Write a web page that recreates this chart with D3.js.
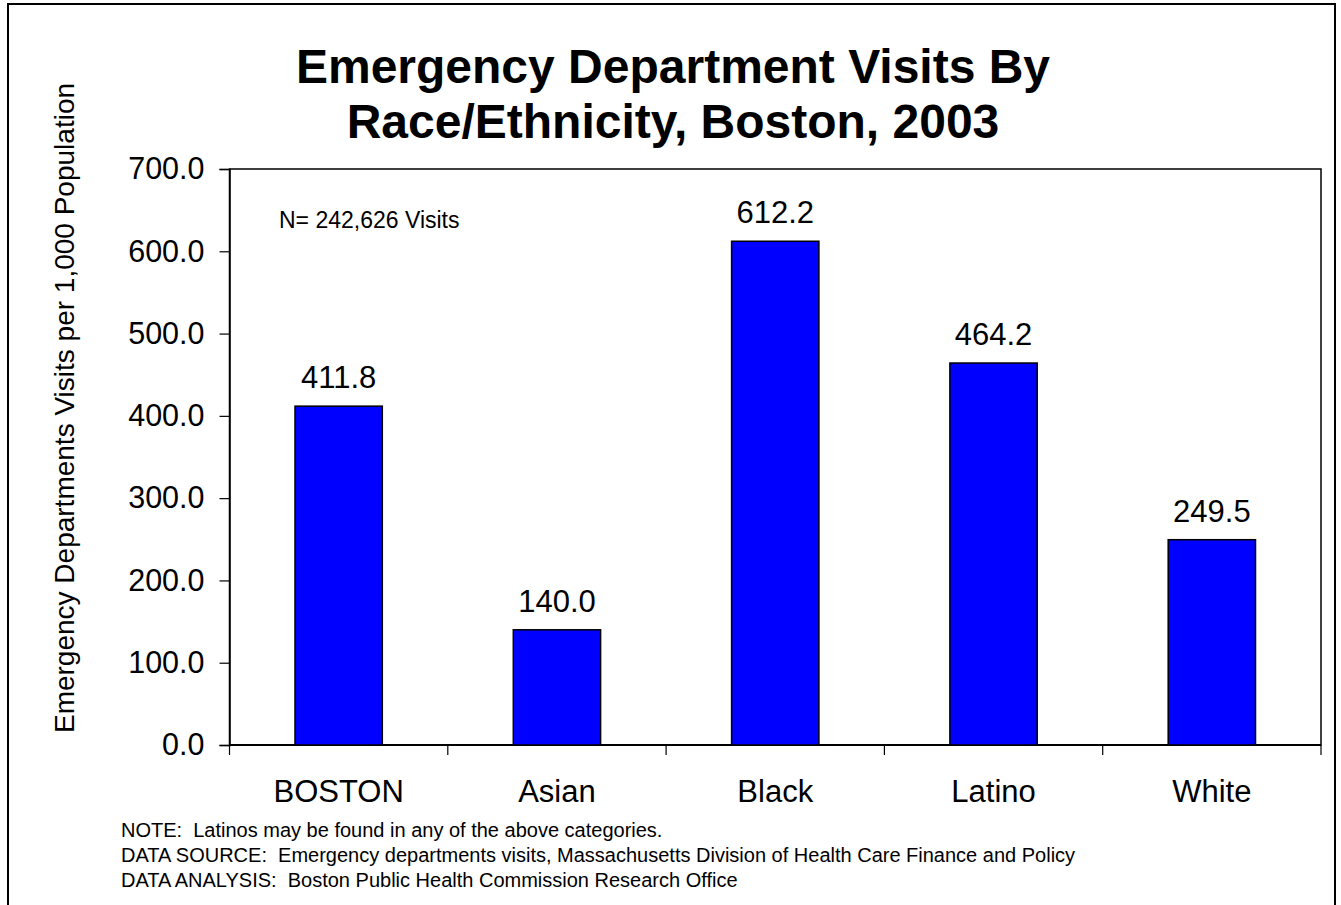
<!DOCTYPE html>
<html>
<head>
<meta charset="utf-8">
<script src="https://cdn.jsdelivr.net/npm/d3@7"></script>
<style>
  html, body { margin: 0; padding: 0; background: #fff; }
  svg { display: block; font-family: "Liberation Sans", Arial, Helvetica, sans-serif; }
  text { white-space: pre; }
</style>
</head>
<body>
<svg id="chart" width="1341" height="905"></svg>
<script>
// Emergency department visit rates per 1,000 population, Boston 2003
const categories = ["BOSTON", "Asian", "Black", "Latino", "White"];
const rates = [411.8, 140.0, 612.2, 464.2, 249.5];
const yTicks = [0, 100, 200, 300, 400, 500, 600, 700];
const titleLines = ["Emergency Department Visits By", "Race/Ethnicity, Boston, 2003"];
const yAxisTitle = "Emergency Departments Visits per 1,000 Population";
const countNote = "N= 242,626 Visits";
const footNotes = [
  "NOTE:  Latinos may be found in any of the above categories.",
  "DATA SOURCE:  Emergency departments visits, Massachusetts Division of Health Care Finance and Policy",
  "DATA ANALYSIS:  Boston Public Health Commission Research Office"
];

const svg = d3.select("#chart");

// outer frame
svg.append("rect")
  .attr("x", 8).attr("y", 4)
  .attr("width", 1327).attr("height", 920)
  .attr("fill", "#fff").attr("stroke", "#000").attr("stroke-width", 2);

const plot = { left: 229.5, top: 169, right: 1321, bottom: 745 };

const x = d3.scaleBand()
  .domain(categories)
  .range([plot.left, plot.right])
  .paddingInner(0.6).paddingOuter(0.3);

const xOuter = d3.scaleBand()
  .domain(categories)
  .range([plot.left, plot.right]);

const y = d3.scaleLinear()
  .domain([0, 700])
  .range([plot.bottom, plot.top]);

// plot area frame
svg.append("rect")
  .attr("x", plot.left).attr("y", plot.top)
  .attr("width", plot.right - plot.left).attr("height", plot.bottom - plot.top)
  .attr("fill", "none").attr("stroke", "#000").attr("stroke-width", 1.5);

// title
svg.append("text")
  .attr("x", 673).attr("y", 83)
  .attr("text-anchor", "middle")
  .attr("font-size", 48).attr("font-weight", "bold")
  .selectAll("tspan").data(titleLines).join("tspan")
  .attr("x", 673).attr("dy", (d, i) => i === 0 ? 0 : 55)
  .text(d => d);

// y axis
const yAxis = d3.axisLeft(y)
  .tickValues(yTicks)
  .tickFormat(d3.format(".1f"))
  .tickSize(10)
  .tickPadding(15);
const gy = svg.append("g")
  .attr("transform", `translate(${plot.left},0)`)
  .call(yAxis);
gy.select(".domain").attr("stroke", "#000").attr("stroke-width", 1.5);
gy.selectAll(".tick line").attr("stroke", "#000").attr("stroke-width", 1.2);
gy.selectAll(".tick text")
  .attr("font-size", 30.5).attr("font-family", "Liberation Sans, Arial, sans-serif")
  .attr("fill", "#000");

// x axis: ticks at category boundaries
const gx = svg.append("g")
  .attr("transform", `translate(0,${plot.bottom})`);
gx.append("line")
  .attr("x1", plot.left).attr("x2", plot.right)
  .attr("stroke", "#000").attr("stroke-width", 2);
const boundaries = categories.map(c => xOuter(c)).concat([plot.right]);
gx.selectAll("line.tick").data(boundaries).join("line")
  .attr("class", "tick")
  .attr("x1", d => d).attr("x2", d => d)
  .attr("y1", 0).attr("y2", 10)
  .attr("stroke", "#000").attr("stroke-width", 1.2);
gx.selectAll("text").data(categories).join("text")
  .attr("x", d => xOuter(d) + xOuter.bandwidth() / 2)
  .attr("y", 57)
  .attr("text-anchor", "middle")
  .attr("font-size", 31)
  .text(d => d);

// y axis title
svg.append("text")
  .attr("transform", "translate(74,408) rotate(-90)")
  .attr("text-anchor", "middle")
  .attr("font-size", 28)
  .text(yAxisTitle);

// bars
const data = categories.map((c, i) => ({ c, v: rates[i] }));
svg.append("g").selectAll("rect").data(data).join("rect")
  .attr("x", d => x(d.c))
  .attr("y", d => y(d.v))
  .attr("width", x.bandwidth())
  .attr("height", d => y(0) - y(d.v))
  .attr("fill", "#0000FF")
  .attr("stroke", "#000").attr("stroke-width", 1.5);

// value labels
svg.append("g").selectAll("text").data(data).join("text")
  .attr("x", d => x(d.c) + x.bandwidth() / 2)
  .attr("y", d => y(d.v) - 18)
  .attr("text-anchor", "middle")
  .attr("font-size", 31)
  .text(d => d3.format(".1f")(d.v));

// total count
svg.append("text")
  .attr("x", 279).attr("y", 228)
  .attr("font-size", 23)
  .text(countNote);

// footnotes
svg.append("g").selectAll("text").data(footNotes).join("text")
  .attr("x", 121)
  .attr("y", (d, i) => 837 + i * 25)
  .attr("font-size", 20)
  .text(d => d);
</script>
</body>
</html>
